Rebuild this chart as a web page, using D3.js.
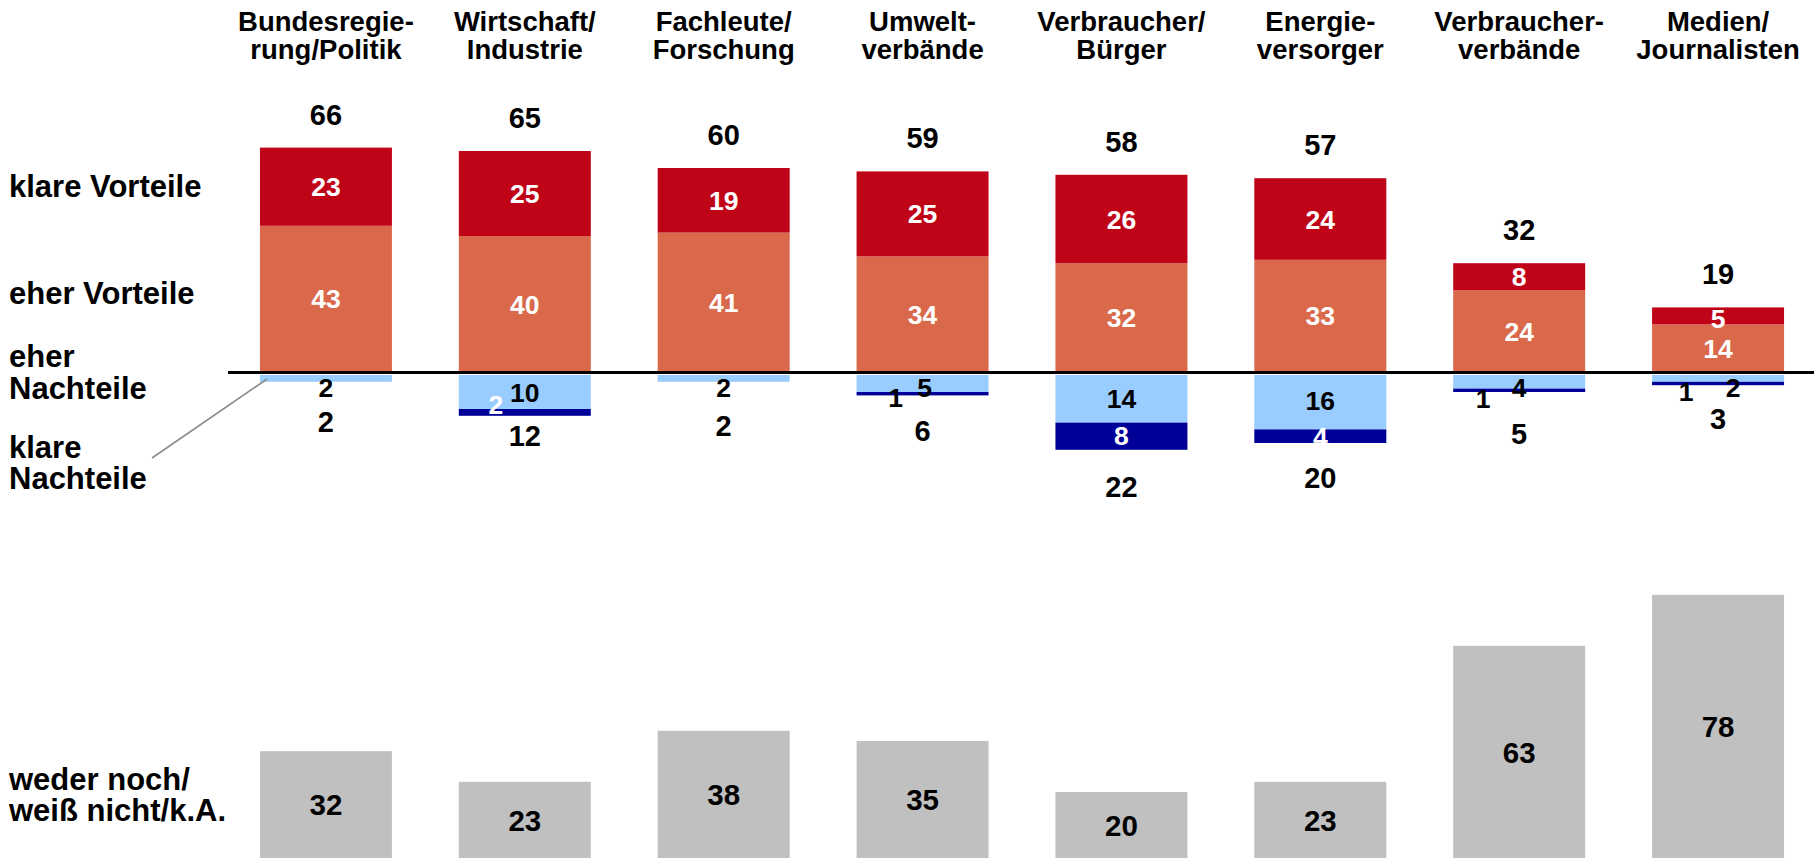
<!DOCTYPE html>
<html>
<head>
<meta charset="utf-8">
<script src="https://cdn.jsdelivr.net/npm/d3@7"></script>
<style>
  html, body { margin: 0; padding: 0; background: #fff; overflow: hidden; }
  svg text { font-family: "Liberation Sans", Arial, Helvetica, sans-serif; font-weight: bold; }
</style>
</head>
<body>
<svg id="chart" width="1814" height="858"></svg>
<script>
// ---------- data ----------
const categories = [
  ["Bundesregie-", "rung/Politik"],
  ["Wirtschaft/", "Industrie"],
  ["Fachleute/", "Forschung"],
  ["Umwelt-", "verbände"],
  ["Verbraucher/", "Bürger"],
  ["Energie-", "versorger"],
  ["Verbraucher-", "verbände"],
  ["Medien/", "Journalisten"]
];
const klareVorteile  = [23, 25, 19, 25, 26, 24, 8, 5];
const eherVorteile   = [43, 40, 41, 34, 32, 33, 24, 14];
const eherNachteile  = [2, 10, 2, 5, 14, 16, 4, 2];
const klareNachteile = [0, 2, 0, 1, 8, 4, 1, 1];
const wederNoch      = [32, 23, 38, 35, 20, 23, 63, 78];
const rowLabels = [
  ["klare Vorteile"],
  ["eher Vorteile"],
  ["eher", "Nachteile"],
  ["klare", "Nachteile"],
  ["weder noch/", "weiß nicht/k.A."]
];

// ---------- layout (not data) ----------
const W = 1814, H = 858;
const colors = { kv: "#C00418", ev: "#D9694A", en: "#99CCFF", kn: "#000099", wn: "#C0C0C0" };
// manual label nudges as in the original (dx, dy in px)
const lightNudge = [[0,0],[0,0],[0,0],[2,0],[0,0],[0,-2],[0,0],[15,0]];
const darkNudge  = [[0,0],[-29,-8],[0,0],[-27,4],[0,-1],[0,0],[-36,8],[-32,8]];
const negTotalDy = [50, 30, 54, 46, 47, 45, 52, 44];
const rowLabelBaselines = [[197], [304], [367, 399], [458, 489], [790, 821]];

const svg = d3.select("#chart");
const idx = d3.range(categories.length);

const x = d3.scaleBand().domain(idx).range([226.5, 1817.5])
  .paddingInner(0.3363).paddingOuter(0.3363 / 2);
const bw = x.bandwidth();
const cx = i => x(i) + bw / 2;

const yPos = d3.scaleLinear().domain([0, 100]).range([372, 32]);
const yNeg = d3.scaleLinear().domain([0, 100]).range([375, 715]);
const yGray = d3.scaleLinear().domain([0, 100]).range([860, 520]);

// ---------- positive stacked bars ----------
const g = svg.append("g");
g.selectAll("rect.ev").data(idx).join("rect")
  .attr("x", i => x(i)).attr("width", bw)
  .attr("y", i => yPos(eherVorteile[i]))
  .attr("height", i => yPos(0) - yPos(eherVorteile[i]))
  .attr("fill", colors.ev);
g.selectAll("rect.kv").data(idx).join("rect")
  .attr("x", i => x(i)).attr("width", bw)
  .attr("y", i => yPos(eherVorteile[i] + klareVorteile[i]))
  .attr("height", i => yPos(eherVorteile[i]) - yPos(eherVorteile[i] + klareVorteile[i]))
  .attr("fill", colors.kv);

// ---------- negative stacked bars ----------
g.selectAll("rect.en").data(idx).join("rect")
  .attr("x", i => x(i)).attr("width", bw)
  .attr("y", yNeg(0))
  .attr("height", i => yNeg(eherNachteile[i]) - yNeg(0))
  .attr("fill", colors.en);
g.selectAll("rect.kn").data(idx.filter(i => klareNachteile[i] > 0)).join("rect")
  .attr("x", i => x(i)).attr("width", bw)
  .attr("y", i => yNeg(eherNachteile[i]))
  .attr("height", i => yNeg(eherNachteile[i] + klareNachteile[i]) - yNeg(eherNachteile[i]))
  .attr("fill", colors.kn);

// ---------- gray bars ----------
g.selectAll("rect.wn").data(idx).join("rect")
  .attr("x", i => x(i)).attr("width", bw)
  .attr("y", i => yGray(wederNoch[i]))
  .attr("height", i => yGray(0) - yGray(wederNoch[i]))
  .attr("fill", colors.wn);

// ---------- baseline ----------
svg.append("line").attr("x1", 228).attr("x2", W)
  .attr("y1", 372.5).attr("y2", 372.5)
  .attr("stroke", "#000").attr("stroke-width", 3);

// leader line
svg.append("line").attr("x1", 267).attr("y1", 379).attr("x2", 152).attr("y2", 458)
  .attr("stroke", "#8c8c8c").attr("stroke-width", 1.6);

// ---------- labels ----------
const lab = svg.append("g").attr("text-anchor", "middle");

// inside positive segments
lab.selectAll("text.ev").data(idx).join("text")
  .attr("x", cx)
  .attr("y", i => (yPos(0) + yPos(eherVorteile[i])) / 2)
  .attr("dy", "0.36em").attr("font-size", 26.5).attr("fill", "#fff")
  .text(i => eherVorteile[i]);
lab.selectAll("text.kv").data(idx).join("text")
  .attr("x", cx)
  .attr("y", i => (yPos(eherVorteile[i]) + yPos(eherVorteile[i] + klareVorteile[i])) / 2 + (klareVorteile[i] < 6 ? 3 : 0))
  .attr("dy", "0.36em").attr("font-size", 26.5).attr("fill", "#fff")
  .text(i => klareVorteile[i]);

// positive totals
lab.selectAll("text.pt").data(idx).join("text")
  .attr("x", cx)
  .attr("y", i => yPos(eherVorteile[i] + klareVorteile[i]) - 23)
  .attr("font-size", 29).attr("fill", "#000")
  .text(i => eherVorteile[i] + klareVorteile[i]);

// light blue labels
lab.selectAll("text.en").data(idx).join("text")
  .attr("x", i => cx(i) + lightNudge[i][0])
  .attr("y", i => Math.max((yNeg(0) + yNeg(eherNachteile[i])) / 2, yNeg(0) + 12) + lightNudge[i][1])
  .attr("dy", "0.36em").attr("font-size", 26.5).attr("fill", "#000")
  .text(i => eherNachteile[i]);

// dark blue labels
lab.selectAll("text.kn").data(idx.filter(i => klareNachteile[i] > 0)).join("text")
  .attr("x", i => cx(i) + darkNudge[i][0])
  .attr("y", i => (yNeg(eherNachteile[i]) + yNeg(eherNachteile[i] + klareNachteile[i])) / 2 + darkNudge[i][1])
  .attr("dy", "0.36em").attr("font-size", 26.5)
  .attr("fill", i => klareNachteile[i] >= 2 ? "#fff" : "#000")
  .text(i => klareNachteile[i]);

// negative totals
lab.selectAll("text.nt").data(idx).join("text")
  .attr("x", cx)
  .attr("y", i => yNeg(eherNachteile[i] + klareNachteile[i]) + negTotalDy[i])
  .attr("font-size", 29).attr("fill", "#000")
  .text(i => eherNachteile[i] + klareNachteile[i]);

// gray labels (middle of visible part)
lab.selectAll("text.wn").data(idx).join("text")
  .attr("x", cx)
  .attr("y", i => (yGray(wederNoch[i]) + H) / 2)
  .attr("dy", "0.36em").attr("font-size", 29.5).attr("fill", "#000")
  .text(i => wederNoch[i]);

// category headers
const hdr = svg.append("g").attr("text-anchor", "middle");
idx.forEach(i => {
  const t = hdr.append("text").attr("font-size", 27.5).attr("fill", "#000");
  categories[i].forEach((line, k) => {
    t.append("tspan").attr("x", cx(i)).attr("y", 31 + k * 28).text(line);
  });
});

// row labels
const rl = svg.append("g");
rowLabels.forEach((lines, r) => {
  const t = rl.append("text").attr("font-size", 31).attr("fill", "#000");
  lines.forEach((line, k) => {
    t.append("tspan").attr("x", 9).attr("y", rowLabelBaselines[r][k]).text(line);
  });
});
</script>
</body>
</html>
